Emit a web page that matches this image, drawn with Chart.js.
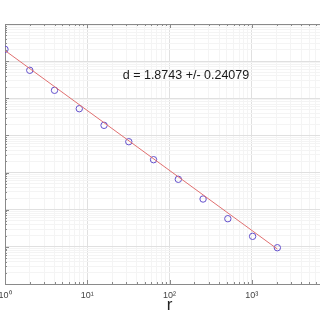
<!DOCTYPE html>
<html>
<head>
<meta charset="utf-8">
<script src="https://cdn.jsdelivr.net/npm/chart.js@4"></script>
<style>
  html, body { margin: 0; padding: 0; overflow: hidden; background: #fff; }
  canvas { display: block; }
</style>
</head>
<body>
<canvas id="fitChart" width="340" height="320"></canvas>
<script>
const rValues = [1, 2, 4, 8, 16, 32, 64, 128, 256, 512, 1024, 2048];
const cValues = [0.208, 0.0567, 0.0164, 0.00524, 0.00187, 0.000677, 0.000222,
                 0.0000659, 0.0000194, 0.00000573, 0.00000192, 0.000000948];

// end points of the fitted line
const fitR = [1, 2048];
const fitC = [0.193, 0.000000875];

const xTickLabels = ['10⁰', '10¹', '10²', '10³', '10⁴'];
const xLabel = 'r';
const fitText = 'd = 1.8743 +/- 0.24079';

const xMin = 1, xMax = 10000;
const yMin = 1e-7, yMax = 1;

// 1..9 x 10^n ticks, major on the decades
function logTicks(min, max) {
    const ticks = [];
    for (let e = Math.round(Math.log10(min)); e <= Math.round(Math.log10(max)); e++) {
        for (let s = 1; s <= 9; s++) {
            const v = s * Math.pow(10, e);
            if (v > max * 1.0001) break;
            ticks.push({ value: v, major: s === 1 });
        }
    }
    return ticks;
}

function gridColor(ctx, max) {
    if (!ctx.tick) return '#eee';
    if (Math.abs(ctx.tick.value - max) / max < 1e-6) return '#8a8a8a';
    return ctx.tick.major ? '#e0e0e0' : '#f4f4f4';
}

// small inward tick marks like the original
const innerTicks = {
    id: 'innerTicks',
    afterDraw(chart) {
        const { ctx, chartArea, scales } = chart;
        ctx.save();
        ctx.strokeStyle = '#8a8a8a';
        ctx.lineWidth = 1;
        ctx.beginPath();
        scales.x.ticks.forEach(t => {
            const px = Math.round(scales.x.getPixelForValue(t.value)) + 0.5;
            const len = t.major ? 4 : 2;
            ctx.moveTo(px, chartArea.bottom);
            ctx.lineTo(px, chartArea.bottom - len);
            ctx.moveTo(px, chartArea.top);
            ctx.lineTo(px, chartArea.top + len);
        });
        scales.y.ticks.forEach(t => {
            const py = Math.round(scales.y.getPixelForValue(t.value)) + 0.5;
            const len = t.major ? 4 : 2;
            ctx.moveTo(chartArea.left, py);
            ctx.lineTo(chartArea.left + len, py);
        });
        ctx.stroke();
        ctx.restore();
    }
};

const fitLabel = {
    id: 'fitLabel',
    afterDatasetsDraw(chart) {
        const { ctx, scales } = chart;
        ctx.save();
        ctx.font = '12.5px "Liberation Sans", Arial, sans-serif';
        ctx.fillStyle = '#1a1a1a';
        ctx.textAlign = 'left';
        ctx.textBaseline = 'middle';
        ctx.fillText(fitText, scales.x.getPixelForValue(27), scales.y.getPixelForValue(0.042));
        ctx.restore();
    }
};

const ctx = document.getElementById('fitChart').getContext('2d');
new Chart(ctx, {
    type: 'scatter',
    data: {
        datasets: [{
            label: 'fit',
            type: 'line',
            data: fitR.map((r, i) => ({ x: r, y: fitC[i] })),
            borderColor: '#e07070',
            borderWidth: 1,
            pointRadius: 0,
            fill: false
        }, {
            label: 'data',
            data: rValues.map((r, i) => ({ x: r, y: cValues[i] })),
            pointStyle: 'circle',
            pointRadius: 3.2,
            pointBorderWidth: 1,
            pointBorderColor: '#6350cc',
            pointBackgroundColor: 'rgba(0,0,0,0)'
        }]
    },
    options: {
        responsive: false,
        animation: false,
        layout: { padding: { top: 24, right: 6, left: 0, bottom: 0 } },
        plugins: {
            legend: { display: false },
            tooltip: { enabled: false }
        },
        scales: {
            x: {
                type: 'logarithmic',
                min: xMin,
                max: xMax,
                afterBuildTicks: (scale) => { scale.ticks = logTicks(xMin, xMax); },
                afterFit: (scale) => { scale.height = 36; scale.paddingLeft = 0; scale.paddingRight = 0; },
                grid: {
                    color: (c) => gridColor(c, xMax),
                    drawTicks: false
                },
                border: { display: true, color: '#8a8a8a' },
                ticks: {
                    autoSkip: false,
                    maxRotation: 0,
                    padding: 6,
                    color: '#444',
                    font: { family: '"Liberation Sans", Arial, sans-serif', size: 9 },
                    callback: function (value) {
                        const e = Math.log10(value);
                        if (Math.abs(e - Math.round(e)) > 1e-9) return '';
                        return xTickLabels[Math.round(e)];
                    }
                },
                title: {
                    display: true,
                    text: xLabel,
                    color: '#222',
                    padding: { top: 0, bottom: 4 },
                    font: { family: '"Liberation Sans", Arial, sans-serif', size: 17 }
                }
            },
            y: {
                type: 'logarithmic',
                min: yMin,
                max: yMax,
                afterBuildTicks: (scale) => { scale.ticks = logTicks(yMin, yMax); },
                afterFit: (scale) => { scale.width = 2.5; },
                grid: {
                    color: (c) => gridColor(c, yMax),
                    drawTicks: false
                },
                border: { display: true, color: '#8a8a8a' },
                ticks: { display: false }
            }
        }
    },
    plugins: [innerTicks, fitLabel]
});
</script>
</body>
</html>
